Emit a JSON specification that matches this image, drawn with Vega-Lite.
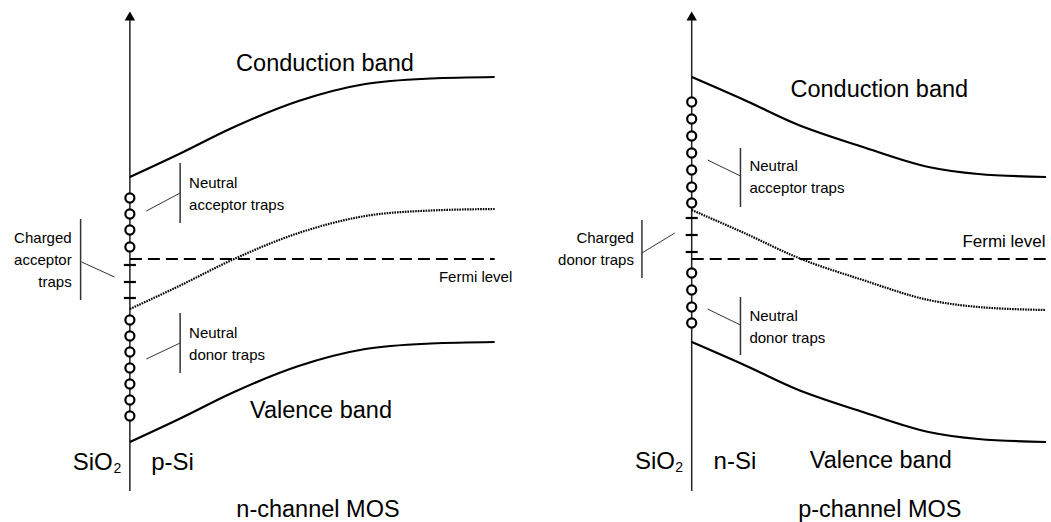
{
  "$schema": "https://vega.github.io/schema/vega-lite/v6.json",
  "width": 1051,
  "height": 522,
  "autosize": {"type": "fit", "contains": "padding"},
  "padding": 0,
  "background": "white",
  "config": {"view": {"stroke": null}, "text": {"font": "Liberation Sans", "color": "#000"}},
  "datasets": {
    "axes": [{"x": 130.5, "y": 16, "y2": 491}, {"x": 695, "y": 16, "y2": 491}],
    "arrows": [{"x": 130.5, "y": 16}, {"x": 695, "y": 16}],
    "bands": [
      {"band": "Lc", "x": 130.5, "y": 177}, {"band": "Lc", "x": 180, "y": 154}, {"band": "Lc", "x": 233, "y": 128}, {"band": "Lc", "x": 300, "y": 101}, {"band": "Lc", "x": 367, "y": 84}, {"band": "Lc", "x": 433, "y": 78.5}, {"band": "Lc", "x": 497, "y": 77},
      {"band": "Lv", "x": 130.5, "y": 442}, {"band": "Lv", "x": 180, "y": 419}, {"band": "Lv", "x": 233, "y": 393}, {"band": "Lv", "x": 300, "y": 366}, {"band": "Lv", "x": 367, "y": 349}, {"band": "Lv", "x": 433, "y": 343.5}, {"band": "Lv", "x": 497, "y": 342},
      {"band": "Rc", "x": 695, "y": 77}, {"band": "Rc", "x": 750, "y": 101}, {"band": "Rc", "x": 800, "y": 124}, {"band": "Rc", "x": 867, "y": 147}, {"band": "Rc", "x": 933, "y": 167}, {"band": "Rc", "x": 983, "y": 174}, {"band": "Rc", "x": 1051, "y": 177},
      {"band": "Rv", "x": 695, "y": 342}, {"band": "Rv", "x": 750, "y": 366}, {"band": "Rv", "x": 800, "y": 389}, {"band": "Rv", "x": 867, "y": 412}, {"band": "Rv", "x": 933, "y": 432}, {"band": "Rv", "x": 983, "y": 439}, {"band": "Rv", "x": 1051, "y": 442}
    ],
    "intrinsic": [
      {"band": "L", "x": 130.5, "y": 309}, {"band": "L", "x": 180, "y": 286}, {"band": "L", "x": 233, "y": 260}, {"band": "L", "x": 300, "y": 233}, {"band": "L", "x": 367, "y": 216}, {"band": "L", "x": 433, "y": 210.5}, {"band": "L", "x": 497, "y": 209},
      {"band": "R", "x": 695, "y": 210}, {"band": "R", "x": 750, "y": 234}, {"band": "R", "x": 800, "y": 257}, {"band": "R", "x": 867, "y": 280}, {"band": "R", "x": 933, "y": 300}, {"band": "R", "x": 983, "y": 307}, {"band": "R", "x": 1051, "y": 310}
    ],
    "fermi": [{"x": 130.5, "x2": 497, "y": 259}, {"x": 695, "x2": 1051, "y": 259}],
    "neutral": [
      {"x": 130.5, "y": 198}, {"x": 130.5, "y": 214}, {"x": 130.5, "y": 230}, {"x": 130.5, "y": 247},
      {"x": 130.5, "y": 320}, {"x": 130.5, "y": 336}, {"x": 130.5, "y": 352}, {"x": 130.5, "y": 368}, {"x": 130.5, "y": 384}, {"x": 130.5, "y": 400}, {"x": 130.5, "y": 416},
      {"x": 695, "y": 102}, {"x": 695, "y": 119}, {"x": 695, "y": 136}, {"x": 695, "y": 153}, {"x": 695, "y": 170}, {"x": 695, "y": 187}, {"x": 695, "y": 203},
      {"x": 695, "y": 273}, {"x": 695, "y": 290}, {"x": 695, "y": 307}, {"x": 695, "y": 323}
    ],
    "charged": [
      {"x": 130.5, "y": 265}, {"x": 130.5, "y": 282}, {"x": 130.5, "y": 298},
      {"x": 695, "y": 218}, {"x": 695, "y": 235}, {"x": 695, "y": 252}
    ],
    "brackets": [
      {"x": 181, "y": 163, "y2": 223}, {"x": 181, "y": 313, "y2": 373}, {"x": 81, "y": 219, "y2": 300},
      {"x": 744, "y": 148, "y2": 207}, {"x": 744, "y": 297, "y2": 355}, {"x": 645, "y": 220, "y2": 278}
    ],
    "leaders": [
      {"x": 147, "y": 211, "x2": 181, "y2": 193}, {"x": 147, "y": 359, "x2": 181, "y2": 343}, {"x": 82, "y": 262, "x2": 115, "y2": 277},
      {"x": 711, "y": 160, "x2": 744, "y2": 176}, {"x": 711, "y": 309, "x2": 744, "y2": 325}, {"x": 645, "y": 253, "x2": 678, "y2": 233}
    ],
    "titles": [
      {"x": 326.5, "y": 71, "t": "Conduction band"}, {"x": 322.5, "y": 418, "t": "Valence band"}, {"x": 319.5, "y": 517, "t": "n-channel MOS"},
      {"x": 883.5, "y": 97, "t": "Conduction band"}, {"x": 885, "y": 468, "t": "Valence band"}, {"x": 884, "y": 517, "t": "p-channel MOS"}
    ],
    "regions": [
      {"x": 73, "y": 470, "t": "SiO"}, {"x": 152, "y": 470, "t": "p-Si"},
      {"x": 638, "y": 469, "t": "SiO"}, {"x": 717, "y": 469, "t": "n-Si"}
    ],
    "subs": [{"x": 114, "y": 473, "t": "2"}, {"x": 678.5, "y": 472, "t": "2"}],
    "notes": [
      {"x": 190, "y": 188, "t": "Neutral"}, {"x": 190, "y": 210, "t": "acceptor traps"},
      {"x": 190, "y": 338, "t": "Neutral"}, {"x": 190, "y": 360, "t": "donor traps"},
      {"x": 441, "y": 282, "t": "Fermi level"},
      {"x": 753, "y": 171, "t": "Neutral"}, {"x": 753, "y": 193, "t": "acceptor traps"},
      {"x": 753, "y": 321, "t": "Neutral"}, {"x": 753, "y": 343, "t": "donor traps"}
    ],
    "fermiNote": [{"x": 967, "y": 247, "t": "Fermi level"}],
    "notesRight": [
      {"x": 72, "y": 243, "t": "Charged"}, {"x": 72, "y": 265, "t": "acceptor"}, {"x": 72, "y": 287, "t": "traps"},
      {"x": 637, "y": 243, "t": "Charged"}, {"x": 637, "y": 265, "t": "donor traps"}
    ]
  },
  "encoding": {
    "x": {"field": "x", "type": "quantitative", "scale": {"domain": [0, 1051], "nice": false, "zero": false}, "axis": null},
    "y": {"field": "y", "type": "quantitative", "scale": {"domain": [0, 522], "nice": false, "zero": false, "reverse": true}, "axis": null}
  },
  "layer": [
    {"data": {"name": "axes"}, "mark": {"type": "rule", "color": "#222", "strokeWidth": 1.5}, "encoding": {"y2": {"field": "y2"}}},
    {"data": {"name": "arrows"}, "mark": {"type": "point", "shape": "triangle-up", "filled": true, "color": "#000", "size": 110, "opacity": 1}, "encoding": {}},
    {"data": {"name": "bands"}, "mark": {"type": "line", "color": "#000", "strokeWidth": 2.2, "interpolate": "monotone"}, "encoding": {"detail": {"field": "band"}}},
    {"data": {"name": "intrinsic"}, "mark": {"type": "line", "color": "#000", "strokeWidth": 2.2, "strokeDash": [1.6, 1], "interpolate": "monotone"}, "encoding": {"detail": {"field": "band"}}},
    {"data": {"name": "fermi"}, "mark": {"type": "rule", "color": "#000", "strokeWidth": 2.2, "strokeDash": [12, 6]}, "encoding": {"x2": {"field": "x2"}}},
    {"data": {"name": "brackets"}, "mark": {"type": "rule", "color": "#333", "strokeWidth": 1.5}, "encoding": {"y2": {"field": "y2"}}},
    {"data": {"name": "leaders"}, "mark": {"type": "rule", "color": "#333", "strokeWidth": 1}, "encoding": {"x2": {"field": "x2"}, "y2": {"field": "y2"}}},
    {"data": {"name": "neutral"}, "mark": {"type": "point", "shape": "circle", "filled": true, "fill": "white", "stroke": "#000", "strokeWidth": 2.2, "size": 82, "opacity": 1}, "encoding": {}},
    {"data": {"name": "charged"}, "mark": {"type": "tick", "orient": "horizontal", "color": "#000", "size": 12, "thickness": 2.2, "opacity": 1}, "encoding": {}},
    {"data": {"name": "titles"}, "mark": {"type": "text", "fontSize": 23.5, "align": "center", "baseline": "alphabetic"}, "encoding": {"text": {"field": "t"}}},
    {"data": {"name": "regions"}, "mark": {"type": "text", "fontSize": 24, "align": "left", "baseline": "alphabetic"}, "encoding": {"text": {"field": "t"}}},
    {"data": {"name": "subs"}, "mark": {"type": "text", "fontSize": 14, "align": "left", "baseline": "alphabetic"}, "encoding": {"text": {"field": "t"}}},
    {"data": {"name": "notes"}, "mark": {"type": "text", "fontSize": 15, "align": "left", "baseline": "alphabetic"}, "encoding": {"text": {"field": "t"}}},
    {"data": {"name": "fermiNote"}, "mark": {"type": "text", "fontSize": 17, "align": "left", "baseline": "alphabetic"}, "encoding": {"text": {"field": "t"}}},
    {"data": {"name": "notesRight"}, "mark": {"type": "text", "fontSize": 15, "align": "right", "baseline": "alphabetic"}, "encoding": {"text": {"field": "t"}}}
  ]
}
